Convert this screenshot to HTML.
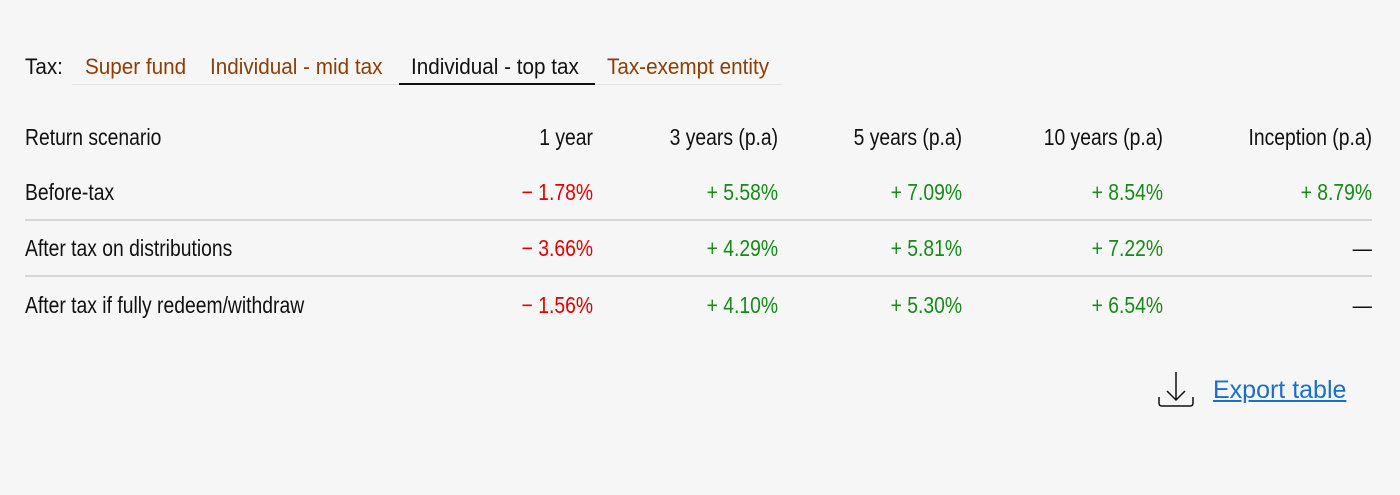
<!DOCTYPE html>
<html><head><meta charset="utf-8"><style>
body{margin:0;width:1400px;height:495px;background:#f6f6f6;font-family:"Liberation Sans Narrow","Liberation Sans",sans-serif;font-size:23px;color:#111;position:relative;overflow:hidden}
.a{position:absolute;white-space:nowrap;line-height:26px;transform:scaleX(0.84);transform-origin:left center}
.r{text-align:right;transform-origin:right center}
.t{font-size:22px;transform:scaleX(0.94)}
.tab{color:#8b3f06}
.neg{color:#e00000}.pos{color:#178a17}
.line{position:absolute;height:2px;background:#d6d6d6}
</style></head><body>
<div class="a t" style="left:25px;top:54px">Tax:</div>
<div class="line" style="left:72px;top:84px;width:710px;height:1px;background:#e4e4e4"></div>
<div class="a t tab" style="left:85px;top:54px">Super fund</div>
<div class="a t tab" style="left:210px;top:54px">Individual - mid tax</div>
<div class="a t" style="left:411px;top:54px">Individual - top tax</div>
<div style="position:absolute;left:399px;top:83px;width:196px;height:2px;background:#111"></div>
<div class="a t tab" style="left:607px;top:54px">Tax-exempt entity</div>

<div class="a" style="left:25px;top:124px">Return scenario</div>
<div class="a r" style="right:807px;top:124px">1 year</div>
<div class="a r" style="right:622px;top:124px">3 years (p.a)</div>
<div class="a r" style="right:438px;top:124px">5 years (p.a)</div>
<div class="a r" style="right:237px;top:124px">10 years (p.a)</div>
<div class="a r" style="right:28px;top:124px">Inception (p.a)</div>

<div class="a" style="left:25px;top:179px">Before-tax</div>
<div class="a r neg" style="right:807px;top:179px">− 1.78%</div>
<div class="a r pos" style="right:622px;top:179px">+ 5.58%</div>
<div class="a r pos" style="right:438px;top:179px">+ 7.09%</div>
<div class="a r pos" style="right:237px;top:179px">+ 8.54%</div>
<div class="a r pos" style="right:28px;top:179px">+ 8.79%</div>
<div class="line" style="left:25px;top:219px;width:1347px"></div>

<div class="a" style="left:25px;top:235px">After tax on distributions</div>
<div class="a r neg" style="right:807px;top:235px">− 3.66%</div>
<div class="a r pos" style="right:622px;top:235px">+ 4.29%</div>
<div class="a r pos" style="right:438px;top:235px">+ 5.81%</div>
<div class="a r pos" style="right:237px;top:235px">+ 7.22%</div>
<div class="a r" style="right:28px;top:235px">—</div>
<div class="line" style="left:25px;top:275px;width:1347px"></div>

<div class="a" style="left:25px;top:292px">After tax if fully redeem/withdraw</div>
<div class="a r neg" style="right:807px;top:292px">− 1.56%</div>
<div class="a r pos" style="right:622px;top:292px">+ 4.10%</div>
<div class="a r pos" style="right:438px;top:292px">+ 5.30%</div>
<div class="a r pos" style="right:237px;top:292px">+ 6.54%</div>
<div class="a r" style="right:28px;top:292px">—</div>

<svg style="position:absolute;left:1156px;top:370px" width="40" height="38">
<path d="M20 2 V30 M11 21 L20 30 L29 21" stroke="#111" stroke-width="1.5" fill="none"/>
<path d="M3 27 V33 Q3 36 6 36 H34 Q37 36 37 33 V27" stroke="#111" stroke-width="1.5" fill="none"/>
</svg>
<div class="a" style="left:1213px;top:377px;color:#1a6fc9;text-decoration:underline;font-size:25px;transform:scaleX(1)">Export table</div>
</body></html>
